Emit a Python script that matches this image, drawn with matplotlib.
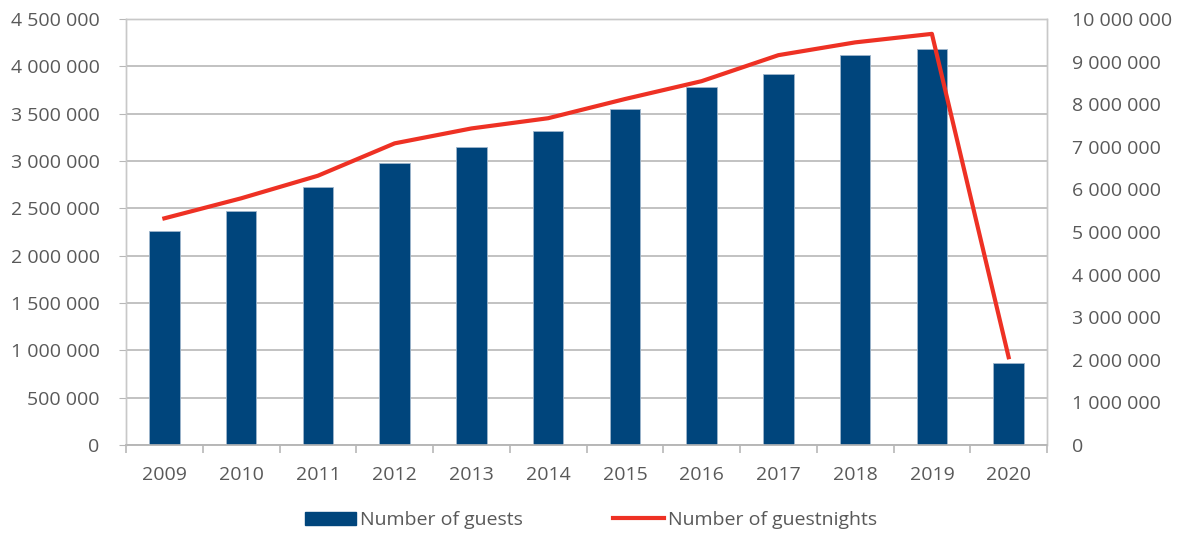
import numpy as np
import matplotlib.pyplot as plt
from matplotlib.ticker import FuncFormatter, MultipleLocator
from matplotlib.patches import Patch
from matplotlib.lines import Line2D

plt.rcParams['font.family'] = ['Open Sans', 'DejaVu Sans']

# Data
years = ['2009', '2010', '2011', '2012', '2013', '2014',
         '2015', '2016', '2017', '2018', '2019', '2020']
guests = [2260000, 2475000, 2725000, 2975000, 3148000, 3317000,
          3546000, 3785000, 3919000, 4123000, 4186000, 869000]
guestnights = [5320000, 5790000, 6320000, 7080000, 7430000, 7670000,
               8120000, 8540000, 9150000, 9450000, 9650000, 2060000]

blue = '#00457c'
red = '#ee3124'
txt = '#595959'
grid_c = '#b7b7b7'
fs = 14

def fmt(v, pos):
    return '{:,.0f}'.format(v).replace(',', ' ')

fig = plt.figure(figsize=(11.82, 5.34), dpi=100)
ax = fig.add_axes([0.1066, 0.1667, 0.7792, 0.7978])
ax2 = ax.twinx()

x = np.arange(len(years))
ax.bar(x, guests, width=0.4, color=blue, edgecolor='#9fb6cc', linewidth=0.6, zorder=3)
ax2.plot(x, guestnights, color=red, linewidth=3, zorder=4)

ax.set_xlim(-0.5, len(years) - 0.5)
ax.set_ylim(0, 4500000)
ax2.set_ylim(0, 10000000)
ax.yaxis.set_major_locator(MultipleLocator(500000))
ax2.yaxis.set_major_locator(MultipleLocator(1000000))
ax.yaxis.set_major_formatter(FuncFormatter(fmt))
ax2.yaxis.set_major_formatter(FuncFormatter(fmt))

ax.grid(axis='y', color=grid_c, linewidth=1.2, zorder=0)
ax.set_axisbelow(True)

ax.set_xticks(x)
ax.set_xticklabels(years)
ax.set_xticks(np.arange(-0.5, len(years)), minor=True)
ax.tick_params(axis='x', which='major', length=0, pad=15, labelsize=fs, labelcolor=txt)
ax.tick_params(axis='x', which='minor', length=6, color=grid_c, width=1.2)
ax.tick_params(axis='y', length=5, color=grid_c, labelsize=fs, labelcolor=txt, pad=14)
ax2.tick_params(axis='y', length=0, labelsize=fs, labelcolor=txt, pad=18)

for a in (ax, ax2):
    for s in ('left', 'right', 'top'):
        a.spines[s].set_color('#c8c8c8')
        a.spines[s].set_linestyle((0, (1, 1)))
        a.spines[s].set_linewidth(1.0)
    a.spines['bottom'].set_color(grid_c)
    a.spines['bottom'].set_linewidth(1.2)

handles = [Patch(facecolor=blue, edgecolor=blue),
           Line2D([0], [0], color=red, linewidth=3)]
fig.legend(handles, ['Number of guests', 'Number of guestnights'],
           loc='center', bbox_to_anchor=(0.5, 0.026), ncol=2, frameon=False,
           fontsize=fs, labelcolor=txt, handlelength=2.65, handletextpad=0.2,
           columnspacing=4.6, borderpad=0)

fig.savefig('out.png', dpi=100)
